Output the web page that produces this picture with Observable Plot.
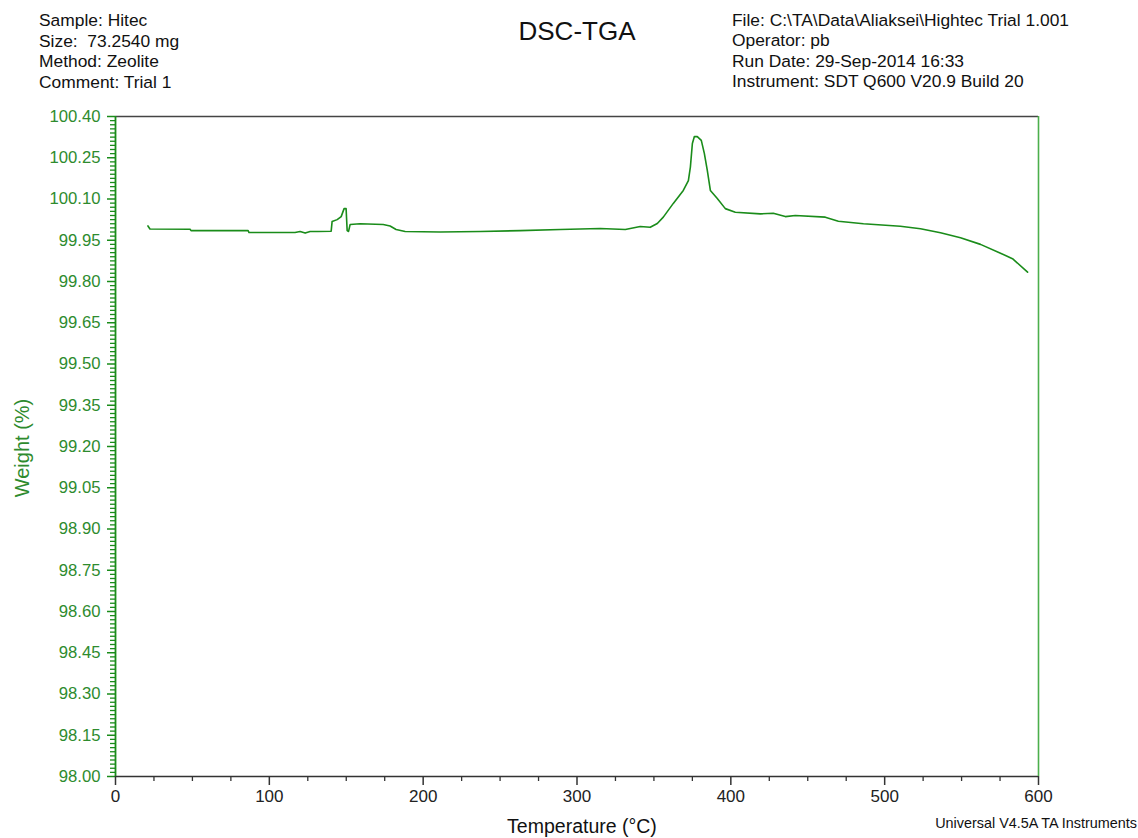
<!DOCTYPE html>
<html>
<head>
<meta charset="utf-8">
<script src="https://cdn.jsdelivr.net/npm/d3@7"></script>
<script src="https://cdn.jsdelivr.net/npm/@observablehq/plot@0.6"></script>
<style>
  html, body { margin: 0; padding: 0; background: #fff; }
  #chart svg { display: block; }
</style>
</head>
<body>
<div id="chart"></div>
<script>
// TGA weight trace, Hitec sample on zeolite (SDT Q600)
const temperature = [21.1, 22.4, 48.5, 49.1, 86.2, 86.8, 116.7, 120.0, 123.3, 126.5, 131.7, 140.2,
  140.8, 144.1, 146.7, 148.6, 149.9, 150.6, 151.5, 152.5, 159.0, 174.0, 178.5, 182.4, 188.3, 211.0,
  237.1, 263.1, 289.1, 302.1, 315.1, 331.4, 341.1, 347.6, 352.2, 356.1, 362.6, 369.1, 372.4, 373.7,
  375.0, 376.3, 378.2, 380.8, 382.8, 384.7, 386.7, 391.2, 396.4, 402.9, 419.2, 427.6, 435.4, 441.9,
  461.4, 469.9, 486.2, 510.2, 523.3, 536.3, 549.3, 562.3, 575.3, 583.1, 592.9];
const weight = [100.002, 99.991, 99.990, 99.985, 99.985, 99.978, 99.978, 99.982, 99.976, 99.982, 99.982, 99.983,
  100.018, 100.025, 100.036, 100.065, 100.065, 99.985, 99.982, 100.007, 100.010, 100.007, 100.002, 99.989, 99.982, 99.980,
  99.982, 99.985, 99.989, 99.991, 99.993, 99.989, 100.000, 99.997, 100.011, 100.034, 100.084, 100.131, 100.167, 100.216,
  100.302, 100.327, 100.327, 100.313, 100.265, 100.204, 100.131, 100.102, 100.065, 100.052, 100.046, 100.048, 100.036, 100.040,
  100.034, 100.019, 100.010, 100.001, 99.992, 99.977, 99.959, 99.935, 99.903, 99.883, 99.834];

const xTicks = [0, 100, 200, 300, 400, 500, 600];
const yTicks = [98.00, 98.15, 98.30, 98.45, 98.60, 98.75, 98.90, 99.05, 99.20, 99.35, 99.50, 99.65, 99.80, 99.95, 100.10, 100.25, 100.40];
const headerLeft = ["Sample: Hitec", "Size:  73.2540 mg", "Method: Zeolite", "Comment: Trial 1"];
const headerRight = ["File: C:\\TA\\Data\\Aliaksei\\Hightec Trial 1.001", "Operator: pb", "Run Date: 29-Sep-2014 16:33", "Instrument: SDT Q600 V20.9 Build 20"];
const title = "DSC-TGA";
const xLabel = "Temperature (°C)";
const yLabel = "Weight (%)";
const footer = "Universal V4.5A TA Instruments";

// minor tick positions: every 25 °C and every 0.015 %
const xMinor = d3.range(0, 25).map(k => k * 25).filter(v => v % 100 !== 0);
const yMinor = d3.range(0, 161).map(k => 98 + k * 0.015).filter((v, k) => k % 10 !== 0);

const rows = temperature.map((t, i) => ({t, w: weight[i]}));

const green = "#1a8c1a";
const labelGreen = "#2e8b2e";
const dark = "#222";

const plot = Plot.plot({
  width: 1138,
  height: 838,
  marginLeft: 115,
  marginRight: 100,
  marginTop: 116,
  marginBottom: 62,
  style: {fontFamily: "'Liberation Sans', Arial, sans-serif", background: "#fff"},
  x: {domain: [0, 600]},
  y: {domain: [98, 100.4]},
  marks: [
    Plot.axisY(yMinor, {tickSize: 5, strokeWidth: 1.3, tickFormat: () => " ", stroke: green, label: null}),
    Plot.axisY(yTicks, {tickSize: 8, strokeWidth: 1.5, tickPadding: 7, tickFormat: d3.format(".2f"),
      stroke: green, fill: labelGreen, fontSize: 16.7, label: null}),
    Plot.axisX(xMinor, {tickSize: 5, strokeWidth: 1.3, tickFormat: () => " ", stroke: "#333", label: null}),
    Plot.axisX(xTicks, {tickSize: 9, strokeWidth: 1.5, tickPadding: 4, tickFormat: d3.format("d"),
      stroke: "#333", fill: dark, fontSize: 17, label: null}),
    Plot.ruleY([100.4], {stroke: "#444", strokeWidth: 1.6}),
    Plot.ruleY([98], {stroke: "#333", strokeWidth: 1.6}),
    Plot.ruleX([600], {stroke: "#4caf4c", strokeWidth: 1.6}),
    Plot.ruleX([0], {stroke: green, strokeWidth: 1.8}),
    Plot.line(rows, {x: "t", y: "w", stroke: green, strokeWidth: 1.6})
  ]
});

document.getElementById("chart").append(plot);

// Header block, title, axis titles and footer
const svg = d3.select(plot);
const font = "'Liberation Sans', Arial, sans-serif";
const ann = svg.append("g").attr("font-family", font).attr("text-anchor", "start");

const baselines = [26, 46.5, 67, 87.5];
headerLeft.forEach((s, i) => ann.append("text").attr("x", 39).attr("y", baselines[i])
  .attr("text-anchor", "start").attr("font-size", 17.4).attr("fill", "#111")
  .style("white-space", "pre").text(s));
headerRight.forEach((s, i) => ann.append("text").attr("x", 732).attr("y", baselines[i] - 0.5)
  .attr("text-anchor", "start").attr("font-size", 17.4).attr("fill", "#111")
  .style("white-space", "pre").text(s));

ann.append("text").attr("x", 577).attr("y", 40).attr("text-anchor", "middle")
  .attr("font-size", 26).attr("fill", "#111").text(title);

ann.append("text").attr("x", 582).attr("y", 833).attr("text-anchor", "middle")
  .attr("font-size", 19.5).attr("fill", "#111").text(xLabel);

ann.append("text").attr("transform", "translate(29,448) rotate(-90)").attr("text-anchor", "middle")
  .attr("font-size", 20).attr("fill", labelGreen).text(yLabel);

ann.append("text").attr("x", 1137).attr("y", 828).attr("text-anchor", "end")
  .attr("font-size", 14.4).attr("fill", "#111").text(footer);
</script>
</body>
</html>
